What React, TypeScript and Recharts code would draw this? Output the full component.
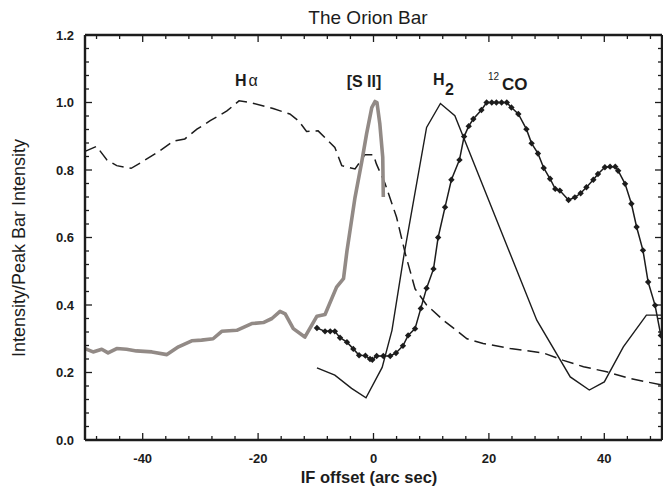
import React from "react";
import { LineChart, Line, XAxis, YAxis } from "recharts";

// values: [offset (arc sec), intensity / peak]
const HALPHA: [number, number][] = [
  [-50, 0.855], [-48, 0.87], [-46.2, 0.83], [-44.5, 0.813], [-42, 0.805], [-40.2, 0.823],
  [-37, 0.857], [-34.7, 0.885], [-32.7, 0.892], [-30.6, 0.921], [-28.3, 0.946], [-25.4, 0.975],
  [-23.3, 1.005], [-21.4, 1.0], [-17.4, 0.982], [-14.5, 0.966], [-13, 0.946], [-11.6, 0.914],
  [-9.6, 0.916], [-6.7, 0.867], [-5.5, 0.813], [-3.2, 0.803], [-1.5, 0.845], [0, 0.845],
  [0.5, 0.818], [2, 0.76], [4, 0.66], [5.5, 0.553], [7.2, 0.448], [9.2, 0.4], [12.1, 0.355],
  [16.2, 0.3], [19, 0.286], [23.7, 0.271], [29.4, 0.258], [32.9, 0.236], [36.4, 0.217],
  [40.4, 0.202], [44.5, 0.182], [50, 0.163],
];

const SII: [number, number][] = [
  [-50, 0.271], [-48.6, 0.261], [-47.1, 0.269], [-46, 0.258], [-44.5, 0.271], [-42.8, 0.269],
  [-41.1, 0.264], [-38.4, 0.261], [-35.8, 0.253], [-33.8, 0.276], [-31.5, 0.294], [-29.8, 0.296],
  [-27.8, 0.3], [-26.3, 0.322], [-23.7, 0.325], [-21.1, 0.345], [-19.1, 0.348], [-17.6, 0.36],
  [-16.2, 0.381], [-15.3, 0.374], [-13.9, 0.33], [-11.9, 0.305], [-9.8, 0.367], [-8.4, 0.372],
  [-6.4, 0.453], [-5.2, 0.478], [-4.6, 0.56], [-3.2, 0.719], [-2, 0.828], [-1.2, 0.907],
  [-0.3, 0.985], [0.26, 1.003], [0.6, 1.0], [1.1, 0.936], [1.6, 0.838], [1.7, 0.72],
];

const H2: [number, number][] = [
  [-9.8, 0.214], [-6.7, 0.192], [-3.8, 0.153], [-1.3, 0.125], [1.5, 0.215], [3.2, 0.325],
  [5.3, 0.55], [9.2, 0.926], [11.6, 0.997], [14.1, 0.961], [28.3, 0.355], [34.1, 0.187],
  [37.4, 0.148], [40, 0.172], [43.3, 0.276], [47.3, 0.37], [50, 0.37],
];

const CO12: [number, number][] = [
  [-9.8, 0.332], [-8.4, 0.322], [-7.5, 0.322], [-6.7, 0.322], [-5.8, 0.303], [-4.6, 0.29],
  [-3.5, 0.27], [-2.5, 0.251], [-1.4, 0.25], [-0.6, 0.24], [-0.2, 0.238], [0.55, 0.249],
  [1.7, 0.249], [2.9, 0.249], [3.9, 0.258], [5.1, 0.279], [6, 0.31], [7.2, 0.33], [8.2, 0.39],
  [9.2, 0.45], [10.4, 0.507], [11.2, 0.6], [12.4, 0.69], [13.5, 0.771], [14.9, 0.83],
  [15.7, 0.899], [16.5, 0.93], [17.3, 0.951], [18.7, 0.978], [19.6, 1.0], [20.5, 1.0],
  [21.3, 1.0], [22.2, 1.0], [23.1, 1.0], [23.9, 0.985], [25.1, 0.966], [26.5, 0.921],
  [27.4, 0.879], [28.5, 0.849], [29.5, 0.806], [30.6, 0.774], [31.5, 0.744], [32.3, 0.739],
  [33.8, 0.711], [34.9, 0.719], [35.9, 0.731], [36.9, 0.749], [38.1, 0.771], [38.9, 0.788],
  [40.1, 0.808], [41, 0.81], [41.9, 0.81], [42.4, 0.798], [43.6, 0.759], [44.7, 0.7],
  [45.6, 0.631], [46.7, 0.562], [47.6, 0.468], [48.8, 0.399], [49.8, 0.31],
];

const X_LABELS = [-40, -20, 0, 20, 40];
const X_TICKS = [-48, -44, -40, -36, -32, -28, -24, -20, -16, -12, -8, -4, 0, 4, 8, 12, 16, 20, 24, 28, 32, 36, 40, 44, 48];
const Y_LABELS = [0, 0.2, 0.4, 0.6, 0.8, 1.0, 1.2];
const Y_TICKS = Array.from({ length: 31 }, (_, i) => +(i * 0.04).toFixed(2));

const FONT = "'Liberation Sans', Arial, Helvetica, sans-serif";
const INK = "#1c1c1c";
const GRAY = "#928a86";

const pts = (a: [number, number][]) => a.map(([x, y]) => ({ x, y }));
const isYMajor = (v: number) => Y_LABELS.some((m) => Math.abs(m - v) < 1e-6);

// ticks point inward; majors a bit longer than minors
function BottomTick({ x, y, payload }: any) {
  const major = X_LABELS.includes(payload.value);
  return (
    <g>
      <path d={`M${x},${y}V${y - (major ? 7 : 4)}`} stroke={INK} strokeWidth={1.3} fill="none" />
      {major && (
        <text x={x} y={y + 23} textAnchor="middle" fontFamily={FONT} fontWeight="bold" fontSize={13} fill={INK}>
          {payload.value}
        </text>
      )}
    </g>
  );
}

function TopTick({ x, y, payload }: any) {
  const major = X_LABELS.includes(payload.value);
  return <path d={`M${x},${y}V${y + (major ? 7 : 4)}`} stroke={INK} strokeWidth={1.3} fill="none" />;
}

function LeftTick({ x, y, payload }: any) {
  const major = isYMajor(payload.value);
  return (
    <g>
      <path d={`M${x},${y}H${x + (major ? 7 : 4)}`} stroke={INK} strokeWidth={1.3} fill="none" />
      {major && (
        <text x={x - 11} y={y + 4.5} textAnchor="end" fontFamily={FONT} fontWeight="bold" fontSize={13} fill={INK}>
          {payload.value.toFixed(1)}
        </text>
      )}
    </g>
  );
}

function RightTick({ x, y, payload }: any) {
  const major = isYMajor(payload.value);
  return <path d={`M${x},${y}H${x - (major ? 7 : 4)}`} stroke={INK} strokeWidth={1.3} fill="none" />;
}

const Diamond = (p: any) => {
  const { cx, cy, index } = p;
  const r = 3.2;
  return <path key={`co${index}`} d={`M${cx},${cy - r}L${cx + r},${cy}L${cx},${cy + r}L${cx - r},${cy}Z`} fill={INK} />;
};

const AXIS_LINE = { stroke: INK, strokeWidth: 2.4 };

export default function App() {
  return (
    <div style={{ position: "absolute", left: 0, top: 0, width: 663, height: 492, background: "#fff" }}>
      <LineChart width={663} height={492} margin={{ top: 34, right: 0, bottom: 51, left: 84 }}>
        <XAxis xAxisId="b" type="number" dataKey="x" domain={[-50, 50]} ticks={X_TICKS} interval={0}
          height={1} tickSize={0} tickMargin={0} tickLine={false} axisLine={AXIS_LINE} tick={BottomTick} />
        <XAxis xAxisId="t" orientation="top" type="number" dataKey="x" domain={[-50, 50]} ticks={X_TICKS} interval={0}
          height={1} tickSize={0} tickMargin={0} tickLine={false} axisLine={AXIS_LINE} tick={TopTick} />
        <YAxis yAxisId="l" type="number" domain={[0, 1.2]} ticks={Y_TICKS} interval={0}
          width={1} tickSize={0} tickMargin={0} tickLine={false} axisLine={AXIS_LINE} tick={LeftTick} />
        <YAxis yAxisId="r" orientation="right" type="number" domain={[0, 1.2]} ticks={Y_TICKS} interval={0}
          width={1} tickSize={0} tickMargin={0} tickLine={false} axisLine={AXIS_LINE} tick={RightTick} />
        <Line xAxisId="b" yAxisId="l" data={pts(HALPHA)} dataKey="y" type="linear" stroke={INK}
          strokeWidth={1.5} strokeDasharray="12 6" dot={false} isAnimationActive={false} />
        <Line xAxisId="b" yAxisId="l" data={pts(SII)} dataKey="y" type="linear" stroke={GRAY}
          strokeWidth={3.6} strokeLinejoin="round" dot={false} isAnimationActive={false} />
        <Line xAxisId="t" yAxisId="r" data={pts(H2)} dataKey="y" type="linear" stroke={INK}
          strokeWidth={1.4} dot={false} isAnimationActive={false} />
        <Line xAxisId="b" yAxisId="l" data={pts(CO12)} dataKey="y" type="linear" stroke={INK}
          strokeWidth={1.5} dot={Diamond} isAnimationActive={false} />
      </LineChart>
      <svg width={663} height={492} style={{ position: "absolute", left: 0, top: 0, pointerEvents: "none" }}>
        <text x={368} y={24} textAnchor="middle" fontFamily={FONT} fontSize={19} fill={INK}>The Orion Bar</text>
        <text transform="translate(25,248) rotate(-90)" textAnchor="middle" fontFamily={FONT} fontSize={18} fill={INK}>
          Intensity/Peak Bar Intensity
        </text>
        <text x={369} y={483} textAnchor="middle" fontFamily={FONT} fontWeight="bold" fontSize={16.5} fill={INK}>
          IF offset (arc sec)
        </text>
        <text x={235} y={86} fontFamily={FONT} fontSize={16} fill={INK}>
          <tspan fontWeight="bold">H</tspan><tspan dx={2}>α</tspan>
        </text>
        <text x={364} y={87} textAnchor="middle" fontFamily={FONT} fontWeight="bold" fontSize={16} fill={INK}>[S II]</text>
        <text x={433} y={85} fontFamily={FONT} fontWeight="bold" fontSize={16} fill={INK}>H</text>
        <text x={445} y={95} fontFamily={FONT} fontWeight="bold" fontSize={16} fill={INK}>2</text>
        <text x={488} y={80} fontFamily={FONT} fontSize={10} fill={INK}>12</text>
        <text x={502} y={90} fontFamily={FONT} fontWeight="bold" fontSize={17} fill={INK}>CO</text>
      </svg>
    </div>
  );
}
